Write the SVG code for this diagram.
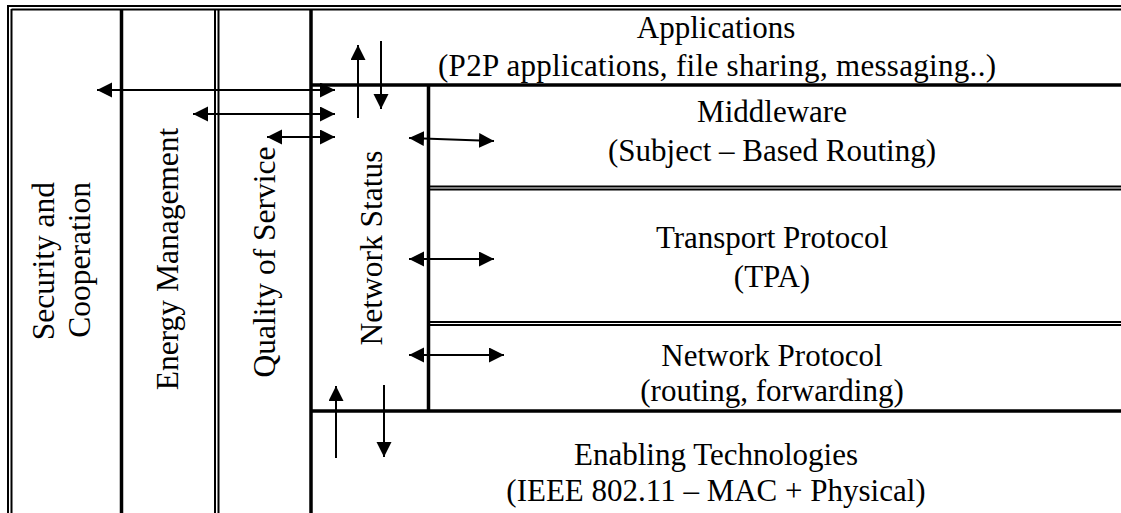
<svg xmlns="http://www.w3.org/2000/svg" width="1121" height="513" viewBox="0 0 1121 513">
<defs>
<marker id="ah" markerUnits="userSpaceOnUse" markerWidth="16" markerHeight="16" viewBox="0 0 16 16" refX="15" refY="7.5" orient="auto-start-reverse">
<path d="M0,0 L15,7.5 L0,15 Z" fill="#000"/>
</marker>
</defs>
<style>
.thin{stroke:#000;stroke-width:2;fill:none}
.thick{stroke:#000;stroke-width:3.5;fill:none}
.arr{stroke:#000;stroke-width:2;fill:none;marker-end:url(#ah)}
.arr2{stroke:#000;stroke-width:2;fill:none;marker-start:url(#ah);marker-end:url(#ah)}
.t{font-family:'Liberation Serif','DejaVu Serif',serif;font-size:31px;fill:#000}
.v{font-family:'Liberation Serif','DejaVu Serif',serif;font-size:31.5px;fill:#000}
.c{text-anchor:middle}
</style>
<rect width="1121" height="513" fill="#fff"/>
<g id="frame">
<line class="thin" x1="8" y1="6" x2="1121" y2="6"/>
<line class="thin" x1="11.5" y1="9.5" x2="1121" y2="9.5"/>
<line class="thin" x1="8" y1="5" x2="8" y2="513"/>
<line class="thin" x1="11.5" y1="9" x2="11.5" y2="513"/>
</g>
<g id="security" font-family="Liberation Serif, DejaVu Serif, serif">
<line class="thick" x1="121.5" y1="9" x2="121.5" y2="513"/>
<text class="v" transform="translate(54,182) rotate(-90)" text-anchor="end">Security and</text>
<text class="v" transform="translate(90,182) rotate(-90)" text-anchor="end">Cooperation</text>
</g>
<g id="energy" font-family="Liberation Serif, DejaVu Serif, serif">
<line class="thin" x1="215" y1="9" x2="215" y2="513"/>
<line class="thin" x1="218.5" y1="9" x2="218.5" y2="513"/>
<text class="v c" transform="translate(178,259) rotate(-90)">Energy Management</text>
</g>
<g id="qos" font-family="Liberation Serif, DejaVu Serif, serif">
<line class="thick" x1="311" y1="9" x2="311" y2="513"/>
<text class="v c" transform="translate(275,262) rotate(-90)">Quality of Service</text>
</g>
<g id="network-status" font-family="Liberation Serif, DejaVu Serif, serif">
<text class="v c" transform="translate(382,248) rotate(-90)">Network Status</text>
</g>
<g id="applications" font-family="Liberation Serif, DejaVu Serif, serif">
<line class="thick" x1="311" y1="85" x2="1121" y2="85"/>
<text class="t c" x="716" y="38">Applications</text>
<text class="t c" x="717" y="76" textLength="558">(P2P applications, file sharing, messaging..)</text>
</g>
<g id="middleware" font-family="Liberation Serif, DejaVu Serif, serif">
<line class="thick" x1="428.5" y1="85" x2="428.5" y2="411"/>
<line class="thin" x1="428" y1="186.5" x2="1121" y2="186.5"/>
<text class="t c" x="772" y="122">Middleware</text>
<text class="t c" x="772" y="161">(Subject – Based Routing)</text>
</g>
<g id="transport" font-family="Liberation Serif, DejaVu Serif, serif">
<line class="thin" x1="428" y1="189.5" x2="1121" y2="189.5"/>
<line class="thin" x1="428" y1="322" x2="1121" y2="322"/>
<text class="t c" x="772" y="248">Transport Protocol</text>
<text class="t c" x="772" y="287">(TPA)</text>
</g>
<g id="network-protocol" font-family="Liberation Serif, DejaVu Serif, serif">
<line class="thin" x1="428" y1="325" x2="1121" y2="325"/>
<text class="t c" x="772" y="366">Network Protocol</text>
<text class="t c" x="772" y="401">(routing, forwarding)</text>
</g>
<g id="enabling" font-family="Liberation Serif, DejaVu Serif, serif">
<line class="thick" x1="311" y1="411" x2="1121" y2="411"/>
<text class="t c" x="716" y="465">Enabling Technologies</text>
<text class="t c" x="716" y="501">(IEEE 802.11 – MAC + Physical)</text>
</g>
<g id="connectors">
<line class="arr2" x1="97" y1="90" x2="335" y2="90"/>
<line class="arr2" x1="193" y1="114" x2="335" y2="114"/>
<line class="arr2" x1="267" y1="137" x2="335" y2="137"/>
<line class="arr" x1="358" y1="118" x2="358" y2="45"/>
<line class="arr" x1="381" y1="41" x2="381" y2="109"/>
<line class="arr2" x1="409" y1="138" x2="494" y2="141"/>
<line class="arr2" x1="409" y1="259" x2="494" y2="259"/>
<line class="arr2" x1="409" y1="355" x2="504" y2="355"/>
<line class="arr" x1="336" y1="458" x2="336" y2="386"/>
<line class="arr" x1="384" y1="385" x2="384" y2="457"/>
</g>
</svg>
